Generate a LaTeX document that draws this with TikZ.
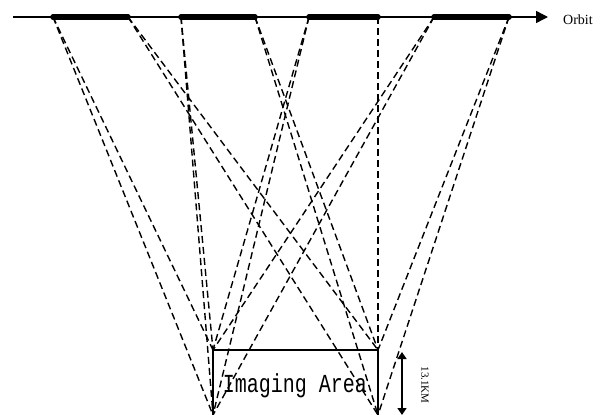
\documentclass[tikz,border=0pt]{standalone}
\usepackage{fontspec}
\setmainfont{Liberation Serif}
\newfontfamily\areafont{Liberation Mono}
\usetikzlibrary{arrows.meta}
\begin{document}
\begin{tikzpicture}[x=1pt,y=-1pt,
  ray/.style={line width=1.4pt,dash pattern=on 7pt off 4pt},
  seg/.style={line width=5.5pt,line cap=round},
  side/.style={line width=2.4pt},
  lbl/.style={inner sep=0pt}]
\useasboundingbox (0,0) rectangle (611,415);
% orbit
\coordinate (o0) at (13,17);
\coordinate (o1) at (548,17);
\draw[line width=1.5pt,-{Triangle[length=12pt,width=12pt]}] (o0) -- (o1);
\node[lbl,anchor=west,font=\fontsize{14}{14}\selectfont] (orbit) at (563,20) {Orbit};
% segment end points
\coordinate (s1a) at (53,17);  \coordinate (s1b) at (128,17);
\coordinate (s2a) at (181,17); \coordinate (s2b) at (255,17);
\coordinate (s3a) at (309,17); \coordinate (s3b) at (378,17);
\coordinate (s4a) at (434,17); \coordinate (s4b) at (509,17);
% imaging area corners
\coordinate (tl) at (213,350); \coordinate (bl) at (213,415);
\coordinate (tr) at (378,350); \coordinate (br) at (378,415);
% rays
\foreach \p in {s1a,s2a,s3a,s4a}{
  \draw[ray] (\p) -- (tl);
  \draw[ray] (\p) -- (bl);
}
\foreach \p in {s1b,s2b,s3b,s4b}{
  \draw[ray] (\p) -- (tr);
  \draw[ray] (\p) -- (br);
}
% thick segments
\draw[seg] (s1a) -- (s1b);
\draw[seg] (s2a) -- (s2b);
\draw[seg] (s3a) -- (s3b);
\draw[seg] (s4a) -- (s4b);
% imaging area
\draw[side] (bl) -- (tl) -- (tr) -- (br);
\node[lbl,font=\areafont\fontsize{20}{20}\selectfont] (area) at (295,386) {\scalebox{1}[1.3]{Imaging Area}};
% dimension
\coordinate (d0) at (402,352);
\coordinate (d1) at (402,415);
\draw[line width=1.5pt,{Triangle[length=7pt,width=9pt]}-{Triangle[length=7pt,width=9pt]}] (d0) -- (d1);
\node[lbl,rotate=-90,font=\fontsize{11}{11}\selectfont] (dim) at (425,385) {13.1KM};
\end{tikzpicture}
\end{document}
